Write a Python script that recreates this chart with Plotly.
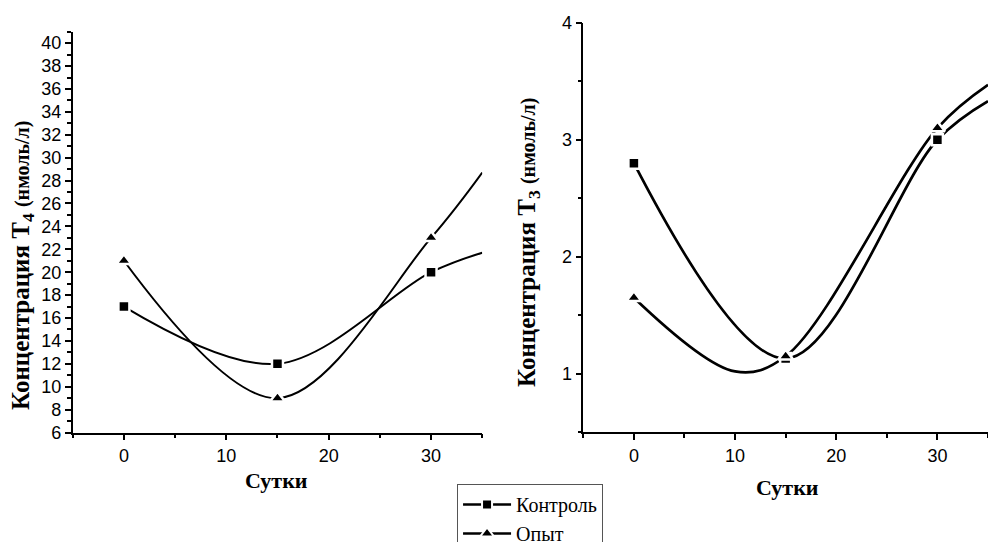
import plotly.graph_objects as go

# ---- data ----
days = [0, 15, 30]
t4_control = [17, 12, 20]
t4_exp = [21, 9, 23]
t3_control = [2.8, 1.13, 3.0]
t3_exp = [1.65, 1.15, 3.1]

# smoothed curves, continuing to the axis end
t4_curve_days = [0, 15, 30, 35]
t4_control_curve = [17, 12, 20, 21.7]
t4_exp_curve = [21, 9, 23, 28.7]
t3_control_curve_days = [0, 15, 30, 35]
t3_control_curve = [2.8, 1.13, 3.0, 3.33]
t3_exp_curve_days = [0, 10, 15, 30, 35]
t3_exp_curve = [1.65, 1.02, 1.15, 3.1, 3.47]

series_names = ["Контроль", "Опыт"]
symbols = ["square", "triangle-up"]
marker_sizes = [11, 13]

SANS = "Liberation Sans, Arial, sans-serif"
SERIF = "Liberation Serif, Times New Roman, serif"

fig = go.Figure()

panels = [
    ("x", "y", [(t4_curve_days, t4_control_curve), (t4_curve_days, t4_exp_curve)],
     [t4_control, t4_exp], 2.0),
    ("x2", "y2", [(t3_control_curve_days, t3_control_curve), (t3_exp_curve_days, t3_exp_curve)],
     [t3_control, t3_exp], 2.7),
]
for xa, ya, curves, points, lw in panels:
    for cdays, curve in curves:
        fig.add_trace(go.Scatter(
            x=cdays, y=curve, xaxis=xa, yaxis=ya, mode="lines",
            line=dict(color="black", width=lw, shape="spline", smoothing=1.0),
            showlegend=False, hoverinfo="skip"))
    for pts, sym, ms in zip(points, symbols, marker_sizes):
        fig.add_trace(go.Scatter(
            x=days, y=pts, xaxis=xa, yaxis=ya, mode="markers",
            marker=dict(symbol=sym, size=ms, color="black",
                        line=dict(color="white", width=2.5)),
            showlegend=False))

# legend entries
for name, sym, ms in zip(series_names, symbols, marker_sizes):
    fig.add_trace(go.Scatter(
        x=[None], y=[None], mode="lines+markers", name=name,
        line=dict(color="black", width=2.5),
        marker=dict(symbol=sym, size=ms - 1, color="black",
                    line=dict(color="white", width=2)),
        showlegend=True))

axis_common = dict(
    showline=True, linecolor="black", linewidth=1.5, mirror=False,
    ticks="outside", ticklen=6, tickwidth=1.5, tickcolor="black",
    showgrid=False, zeroline=False,
    tickfont=dict(family=SANS, size=18, color="black"),
)
minor_common = dict(ticks="outside", ticklen=3.5, tickcolor="black", tickwidth=1.5)

fig.update_layout(
    width=988, height=542,
    margin=dict(l=0, r=0, t=0, b=0, autoexpand=False),
    paper_bgcolor="white", plot_bgcolor="white",
    xaxis=dict(domain=[0.0736, 0.4881], range=[-5, 35], tick0=0, dtick=10,
               minor=dict(dtick=5, **minor_common), anchor="y", **axis_common),
    yaxis=dict(domain=[0.2020, 0.9415], range=[6, 41], tick0=6, dtick=2,
               minor=dict(dtick=1, **minor_common), anchor="x", **axis_common),
    xaxis2=dict(domain=[0.5904, 1.0], range=[-5, 35], tick0=0, dtick=10,
                minor=dict(dtick=5, **minor_common), anchor="y2", **axis_common),
    yaxis2=dict(domain=[0.2024, 0.958], range=[0.5, 4], tick0=1, dtick=1,
                minor=dict(dtick=0.5, **minor_common), anchor="x2", **axis_common),
    legend=dict(x=0.4626, y=1 - 484 / 542, xanchor="left", yanchor="top",
                bgcolor="white", bordercolor="#555555", borderwidth=1,
                font=dict(family=SERIF, size=20, color="black"),
                tracegroupgap=0, itemwidth=48),
    showlegend=True,
)

xt_font = dict(family=SERIF, size=22, color="black")
yt_font = dict(family=SERIF, size=25, color="black")
common_ann = dict(xref="paper", yref="paper", showarrow=False,
                  xanchor="center", yanchor="middle")
fig.add_annotation(text="<b>Сутки</b>", x=276 / 988, y=1 - 480 / 542, font=xt_font, **common_ann)
fig.add_annotation(text="<b>Сутки</b>", x=787 / 988, y=1 - 487 / 542, font=xt_font, **common_ann)
fig.add_annotation(text="<b>Концентрация T<sub>4</sub> <span style='font-size:20px'>(нмоль/л)</span></b>",
                   x=22 / 988, y=1 - 266 / 542, textangle=-90, font=yt_font, **common_ann)
fig.add_annotation(text="<b>Концентрация T<sub>3</sub> <span style='font-size:20px'>(нмоль/л)</span></b>",
                   x=528 / 988, y=1 - 243 / 542, textangle=-90, font=yt_font, **common_ann)

fig.write_html("out.html", config={"displayModeBar": False},
               post_script="document.body.style.margin='0';document.body.style.overflow='hidden';")
